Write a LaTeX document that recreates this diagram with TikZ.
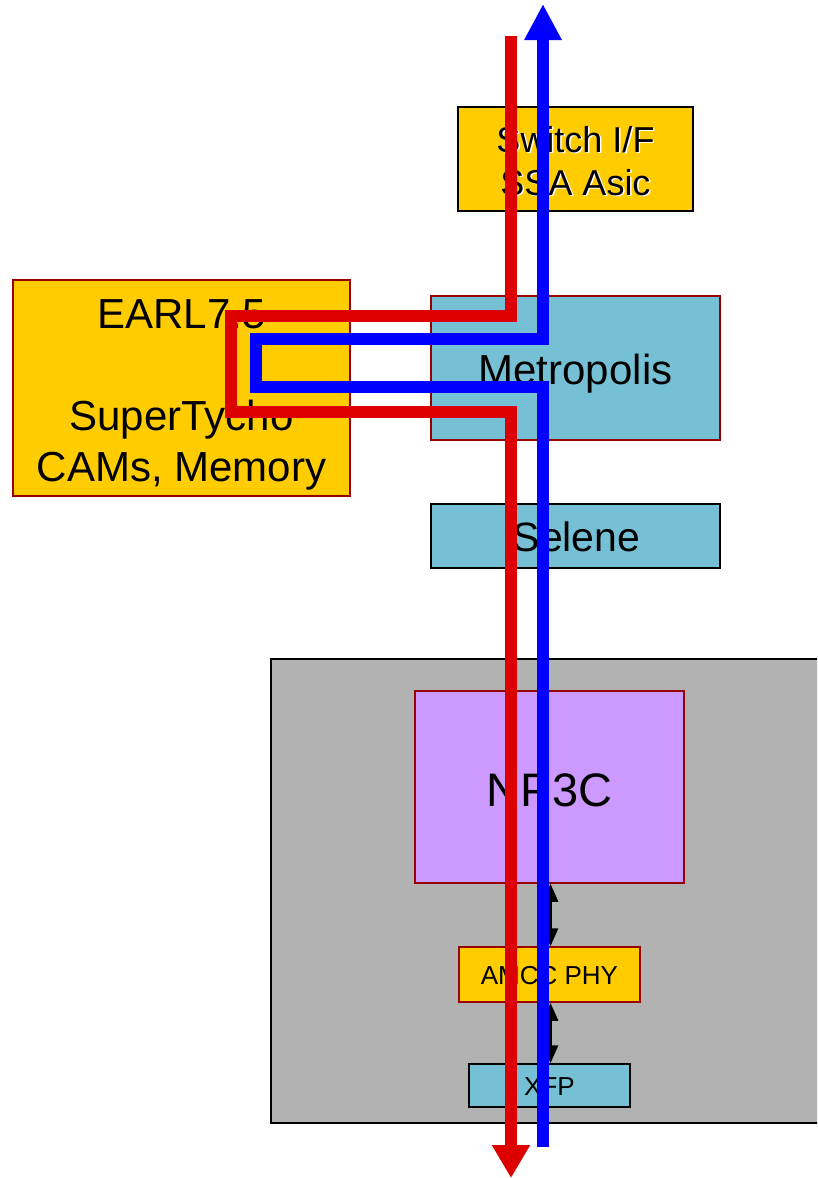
\documentclass[tikz,border=0pt]{standalone}
\usepackage{fontspec}
\setmainfont{Liberation Sans}
\usetikzlibrary{arrows.meta}
\definecolor{ylw}{HTML}{FFCC00}
\definecolor{ltblue}{HTML}{75C0D4}
\definecolor{gry}{HTML}{B2B2B2}
\definecolor{purp}{HTML}{CC99FF}
\definecolor{dred}{HTML}{990000}
\definecolor{pathred}{HTML}{DD0000}
\definecolor{pathblue}{HTML}{0000FF}
\begin{document}
\begin{tikzpicture}[x=1pt,y=-1pt,
  box/.style={draw, rectangle, line width=1.5pt, inner sep=0pt, align=center, text=black},
  lbl/.style={text=black, align=center, inner sep=0pt},
  flow/.style={line width=12pt, line join=miter, line cap=butt},
  link/.style={line width=3pt, black, {Triangle[length=18pt,width=15pt]}-{Triangle[length=18pt,width=15pt]}}
]
\clip (0,0) rectangle (817,1178);
\fill[white] (0,0) rectangle (817,1178);

% boxes
\node[box, fill=ylw, minimum width=235pt, minimum height=104pt] (switch) at (575.5,159) {};
\node[text=white, align=center, inner sep=0pt, font=\fontsize{36}{43}\selectfont] at (577,162.5) {Switch I/F\\SSA Asic};
\node[lbl, font=\fontsize{36}{43}\selectfont] (switchtxt) at (575.5,161) {Switch I/F\\SSA Asic};

\node[box, draw=dred, fill=ylw, minimum width=337pt, minimum height=216pt] (earl) at (181.5,388) {};
\node[lbl, font=\fontsize{42}{51}\selectfont] (earltxt) at (181.5,395) {EARL7.5\\~\\SuperTycho\\CAMs, Memory};

\node[box, draw=dred, fill=ltblue, minimum width=289pt, minimum height=144pt] (metro) at (575.5,368) {};
\node[lbl, font=\fontsize{42}{50}\selectfont] (metrotxt) at (575.5,374) {Metropolis};

\node[box, fill=ltblue, minimum width=289pt, minimum height=64pt] (selene) at (575.5,536) {};
\node[lbl, font=\fontsize{41}{49}\selectfont] (selenetxt) at (576.5,537) {Selene};

\node[box, fill=gry, minimum width=589pt, minimum height=464pt] (card) at (565.5,891) {};

\node[box, draw=dred, fill=purp, minimum width=269pt, minimum height=192pt] (np3c) at (549.5,787) {};
\node[lbl, font=\fontsize{47}{56}\selectfont] (np3ctxt) at (549.5,790) {NP3C};

\node[box, draw=dred, fill=ylw, minimum width=181pt, minimum height=55pt] (amcc) at (549.5,974.5) {};
\node[lbl, font=\fontsize{26}{31}\selectfont] (amcctxt) at (549.5,975.5) {AMCC PHY};

\node[box, fill=ltblue, minimum width=161pt, minimum height=43pt] (xfp) at (549.5,1085.5) {};
\node[lbl, font=\fontsize{26}{31}\selectfont] (xfptxt) at (549.5,1086.5) {XFP};

% black links
\draw[link] ([xshift=1pt]np3c.south) -- ([xshift=1pt]amcc.north);
\draw[link] ([xshift=1pt]amcc.south) -- ([xshift=1pt]xfp.north);

% flow coordinates
\coordinate (r0) at (511,36);
\coordinate (r1) at (511,316);
\coordinate (r2) at (231,316);
\coordinate (r3) at (231,412);
\coordinate (r4) at (511,412);
\coordinate (r5) at (511,1178);

\coordinate (b0) at (543,1147);
\coordinate (b1) at (543,387);
\coordinate (b2) at (256,387);
\coordinate (b3) at (256,339);
\coordinate (b4) at (543,339);
\coordinate (b5) at (543,4);

\draw[flow, pathred, -{Triangle[length=33pt,width=36pt]}] (r0) -- (r1) -- (r2) -- (r3) -- (r4) -- (r5);
\draw[flow, pathblue, -{Triangle[length=36pt,width=35pt]}] (b0) -- (b1) -- (b2) -- (b3) -- (b4) -- (b5);
\end{tikzpicture}
\end{document}
